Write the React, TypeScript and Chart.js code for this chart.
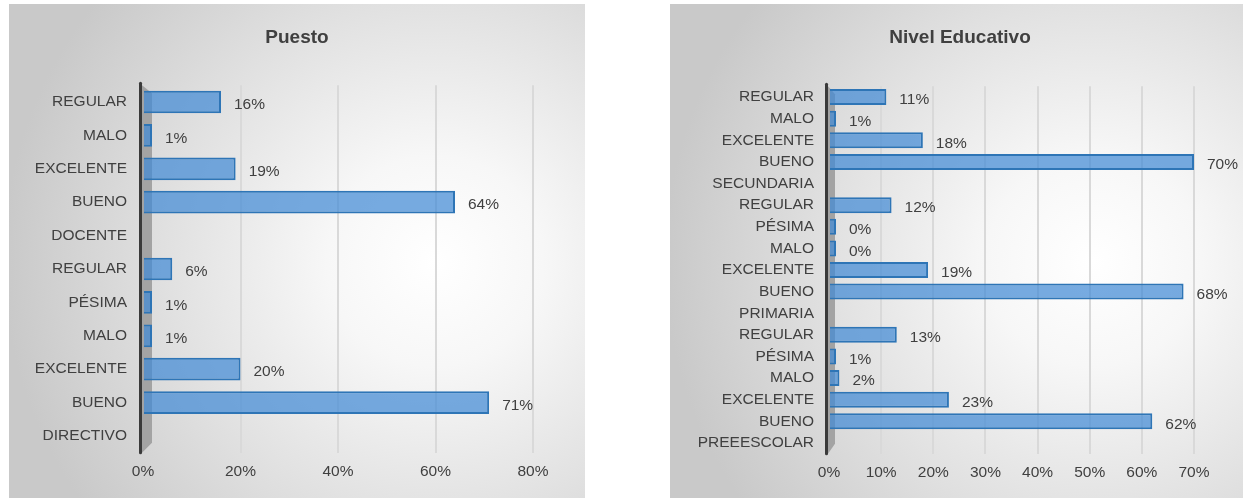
import { useEffect, useRef } from 'react';
import { Chart, registerables } from 'chart.js';

Chart.register(...registerables);

const FONT = "'Liberation Sans', Arial, sans-serif";
const TEXT = '#404040';

const puestoCategories = ['REGULAR', 'MALO', 'EXCELENTE', 'BUENO', 'DOCENTE', 'REGULAR', 'PÉSIMA', 'MALO', 'EXCELENTE', 'BUENO', 'DIRECTIVO'];
const puestoValues: (number | null)[] = [16, 1, 19, 64, null, 6, 1, 1, 20, 71, null];
const puestoTicks = [0, 20, 40, 60, 80];

const nivelCategories = ['REGULAR', 'MALO', 'EXCELENTE', 'BUENO', 'SECUNDARIA', 'REGULAR', 'PÉSIMA', 'MALO', 'EXCELENTE', 'BUENO', 'PRIMARIA', 'REGULAR', 'PÉSIMA', 'MALO', 'EXCELENTE', 'BUENO', 'PREEESCOLAR'];
const nivelValues: (number | null)[] = [11, 1, 18, 70, null, 12, 0, 0, 19, 68, null, 13, 1, 2, 23, 62, null];
const nivelTicks = [0, 10, 20, 30, 40, 50, 60, 70];

type PanelProps = {
  title: string;
  titleX: number;
  titleY: number;
  categories: string[];
  values: (number | null)[];
  ticks: number[];
  left: number;
  top: number;
  width: number;
  height: number;
  yAxisWidth: number;
  padRight: number;
  padTop: number;
  xAxisHeight: number;
  labelPad: number;
  barPct: number;
  minBar: number;
  wallW: number;
};

function BarPanel(p: PanelProps) {
  const ref = useRef<HTMLCanvasElement>(null);
  useEffect(() => {
    const canvas = ref.current!;
    const axisPlugin = {
      id: 'axisWall',
      beforeDatasetsDraw(chart: any) {
        const { ctx, chartArea } = chart;
        const x0 = chartArea.left;
        const top = chartArea.top - 2;
        const bottom = chartArea.bottom;
        ctx.save();
        ctx.fillStyle = '#a3a3a3';
        ctx.beginPath();
        ctx.moveTo(x0 - 1, top + 2);
        ctx.lineTo(x0 + p.wallW, top + 10);
        ctx.lineTo(x0 + p.wallW, bottom - 10);
        ctx.lineTo(x0 - 1, bottom);
        ctx.closePath();
        ctx.fill();
        ctx.strokeStyle = '#3a3a3a';
        ctx.lineWidth = 3;
        ctx.lineCap = 'round';
        ctx.beginPath();
        ctx.moveTo(x0 - 2.5, top);
        ctx.lineTo(x0 - 2.5, bottom);
        ctx.stroke();
        ctx.restore();
      },
    };
    const labelPlugin = {
      id: 'valueLabels',
      afterDatasetsDraw(chart: any) {
        const { ctx } = chart;
        const meta = chart.getDatasetMeta(0);
        ctx.save();
        ctx.fillStyle = TEXT;
        ctx.font = `15.5px ${FONT}`;
        ctx.textAlign = 'left';
        ctx.textBaseline = 'middle';
        meta.data.forEach((bar: any, i: number) => {
          const v = p.values[i];
          if (v === null || v === undefined) return;
          ctx.fillText(`${v}%`, bar.x + 13, bar.y + 3);
        });
        ctx.font = `bold 19px ${FONT}`;
        ctx.textAlign = 'center';
        ctx.fillText(p.title, p.titleX, p.titleY);
        ctx.restore();
      },
    };
    const chart = new Chart(canvas, {
      type: 'bar',
      data: {
        labels: p.categories,
        datasets: [
          {
            data: p.values as any,
            backgroundColor: 'rgba(66,138,214,0.72)',
            borderColor: 'rgb(46,117,182)',
            borderWidth: 2,
            barPercentage: p.barPct,
            categoryPercentage: 1,
            minBarLength: p.minBar,
          },
        ],
      },
      options: {
        responsive: false,
        animation: false,
        devicePixelRatio: 1,
        indexAxis: 'y',
        layout: { padding: { left: 0, right: p.padRight, top: p.padTop, bottom: 0 } },
        plugins: {
          legend: { display: false },
          tooltip: { enabled: false },
          title: { display: false },
        },
        scales: {
          x: {
            type: 'linear',
            min: p.ticks[0],
            max: p.ticks[p.ticks.length - 1],
            afterBuildTicks: (s: any) => {
              s.ticks = p.ticks.map((v) => ({ value: v }));
            },
            afterFit: (s: any) => {
              s.height = p.xAxisHeight;
            },
            ticks: {
              callback: (v: any) => `${v}%`,
              color: TEXT,
              font: { family: FONT, size: 15.5 },
              padding: 10,
              maxRotation: 0,
            },
            grid: {
              color: (c: any) => (c.tick && c.tick.value === 0 ? 'rgba(0,0,0,0)' : '#d9d9d9'),
              lineWidth: 2,
              drawTicks: false,
            },
            border: { display: false },
          },
          y: {
            type: 'category',
            afterFit: (s: any) => {
              s.width = p.yAxisWidth;
            },
            ticks: {
              color: TEXT,
              font: { family: FONT, size: 15.5 },
              padding: p.labelPad,
              autoSkip: false,
            },
            grid: { display: false, drawTicks: false },
            border: { display: false },
          },
        },
      } as any,
      plugins: [axisPlugin, labelPlugin],
    });
    return () => chart.destroy();
  }, []);
  return (
    <div
      style={{
        position: 'absolute',
        left: p.left,
        top: p.top,
        width: p.width,
        height: p.height,
        background:
          'radial-gradient(ellipse 75% 85% at 74% 52%, #ffffff 0%, #f7f7f7 25%, #e2e2e2 60%, #c9c9c9 100%)',
      }}
    >
      <canvas ref={ref} width={p.width} height={p.height} style={{ display: 'block' }} />
    </div>
  );
}

export default function App() {
  return (
    <div style={{ position: 'absolute', left: 0, top: 0, width: 1243, height: 498, overflow: 'hidden', background: '#fff' }}>
      <BarPanel
        title="Puesto"
        titleX={288}
        titleY={34}
        categories={puestoCategories}
        values={puestoValues}
        ticks={puestoTicks}
        left={9}
        top={4}
        width={576}
        height={494}
        yAxisWidth={134}
        padRight={52}
        padTop={81.3}
        xAxisHeight={45.3}
        labelPad={16}
        barPct={0.68}
        minBar={9}
        wallW={9}
      />
      <BarPanel
        title="Nivel Educativo"
        titleX={290}
        titleY={34}
        categories={nivelCategories}
        values={nivelValues}
        ticks={nivelTicks}
        left={670}
        top={4}
        width={573}
        height={494}
        yAxisWidth={159}
        padRight={49}
        padTop={82.2}
        xAxisHeight={44.2}
        labelPad={15}
        barPct={0.74}
        minBar={7}
        wallW={6}
      />
    </div>
  );
}
